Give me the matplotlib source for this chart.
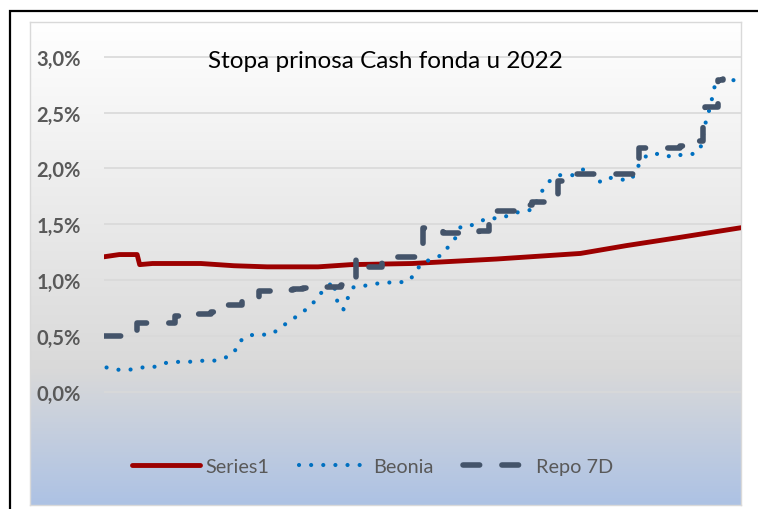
import numpy as np
import matplotlib
matplotlib.use("Agg")
import matplotlib.pyplot as plt
from matplotlib.colors import LinearSegmentedColormap
from matplotlib.patches import Rectangle

# podaci (dan u godini -> stopa u %)
s1_dan = [0, 6, 13, 14, 19, 27, 38, 51, 64, 84, 97, 121, 154, 187, 205, 225, 250]
s1_val = [1.21, 1.23, 1.23, 1.14, 1.15, 1.15, 1.15, 1.13, 1.12, 1.12, 1.14, 1.15, 1.19, 1.24, 1.31, 1.38, 1.47]

beonia_dan = [1, 5, 10, 15, 19, 24, 28, 33, 38, 43, 47, 51, 53, 57, 61, 66, 70, 74, 78, 81, 84,
              90, 92, 94, 96, 98, 102, 107, 111, 116, 120, 123, 125, 129, 133, 136, 138, 140, 144,
              147, 151, 155, 160, 164, 168, 172, 175, 179, 184, 188, 192, 194, 196, 198, 202, 207,
              211, 214, 219, 223, 226, 231, 234, 236, 238, 240, 244, 250]
beonia_val = [0.22, 0.20, 0.20, 0.22, 0.22, 0.26, 0.27, 0.27, 0.28, 0.28, 0.30, 0.35, 0.45, 0.51,
              0.51, 0.52, 0.59, 0.65, 0.72, 0.76, 0.86, 0.99, 0.76, 0.74, 0.86, 0.94, 0.95, 0.97,
              0.98, 0.98, 1.00, 1.10, 1.16, 1.19, 1.23, 1.33, 1.38, 1.48, 1.49, 1.52, 1.56, 1.55,
              1.59, 1.62, 1.63, 1.80, 1.89, 1.94, 1.94, 1.99, 1.96, 1.87, 1.91, 1.92, 1.90, 1.90,
              2.08, 2.13, 2.13, 2.10, 2.12, 2.13, 2.17, 2.40, 2.56, 2.77, 2.81, 2.77]

repo_dan = [0, 13, 28, 30, 42, 43, 54, 61, 69, 74, 78, 86, 93, 99, 104, 109, 125, 133, 142, 147,
            151, 152, 164, 168, 178, 184, 210, 226, 229, 235, 236, 241, 243]
repo_val = [0.50, 0.62, 0.68, 0.70, 0.72, 0.78, 0.85, 0.90, 0.91, 0.92, 0.93, 0.94, 0.96, 1.19,
            1.12, 1.21, 1.47, 1.42, 1.43, 1.44, 1.56, 1.62, 1.67, 1.70, 1.89, 1.95, 2.18, 2.20,
            2.25, 2.40, 2.55, 2.79, 2.80]

y_ticks = [0.0, 0.5, 1.0, 1.5, 2.0, 2.5, 3.0]
naslov = "Stopa prinosa Cash fonda u 2022"

plt.rcParams['font.family'] = ['Lato', 'DejaVu Sans']

W, H = 758, 510
fig = plt.figure(figsize=(W / 100, H / 100), dpi=100)

# pozadina sa gradijentom
bg = fig.add_axes([30 / W, (H - 506) / H, (741 - 30) / W, (506 - 23) / H])
cmap = LinearSegmentedColormap.from_list("grad", [(0, "#ffffff"), (0.72, "#d9d9d9"), (1.0, "#adc2e4")])
grad = np.linspace(0, 1, 256).reshape(-1, 1)
bg.imshow(grad, aspect="auto", cmap=cmap, extent=[0, 1, 1, 0])
bg.set_xlim(0, 1)
bg.set_ylim(1, 0)
bg.set_xticks([])
bg.set_yticks([])
for s in bg.spines.values():
    s.set_color("#d9d9d9")
    s.set_linewidth(1)

# spoljasnji okvir
fig.patches.append(Rectangle((10 / W, -0.1), 1.2, (H - 12) / H + 0.1, transform=fig.transFigure,
                             fill=False, edgecolor="black", linewidth=1.6))

ax = fig.add_axes([104 / W, (H - 506) / H, 637 / W, (506 - 23) / H])
ax.set_facecolor("none")
ax.set_xlim(0, 250)
ax.set_ylim(-1.01, 3.31)

ax.plot(s1_dan, s1_val, color="#9c0000", lw=3.5, solid_capstyle="round", label="Series1", zorder=3)
ax.plot(beonia_dan, beonia_val, color="#0070c0", lw=3.0, linestyle=(0, (0.01, 2.9)),
        dash_capstyle="round", label="Beonia", zorder=4)
ax.plot(repo_dan, repo_val, color="#44546a", lw=4.0, linestyle=(0, (3.0, 4.0)),
        dash_capstyle="round", drawstyle="steps-post", label="Repo 7D", zorder=5)

ax.set_yticks(y_ticks)
ax.set_yticklabels([f"{v:.1f}%".replace(".", ",") for v in y_ticks])
ax.set_xticks([])
ax.tick_params(axis="y", length=0, pad=16.5, labelsize=14.5, labelcolor="#595959")
for lab in ax.get_yticklabels():
    lab.set_fontweight("bold")
ax.grid(axis="y", color="#d9d9d9", lw=1.2)
ax.set_axisbelow(True)
for s in ax.spines.values():
    s.set_visible(False)

fig.text(385 / W, 1 - 61 / H, naslov, ha="center", va="center", fontsize=17.5, color="black")

leg = ax.legend(loc="center", bbox_to_anchor=(0.422, 0.079), ncol=3, frameon=False,
                fontsize=14.3, handlelength=3.4, handletextpad=0.3, columnspacing=1.5)
for t in leg.get_texts():
    t.set_color("#595959")

fig.savefig("out.png", dpi=100)
